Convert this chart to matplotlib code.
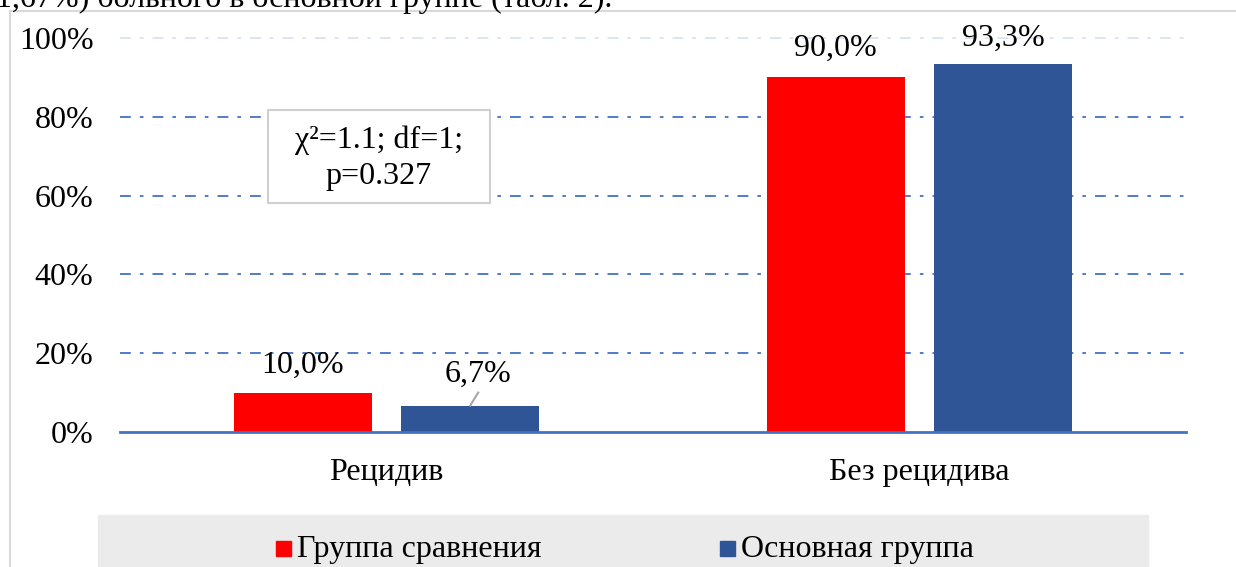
import matplotlib
matplotlib.use("Agg")
import matplotlib.pyplot as plt
from matplotlib.patches import Rectangle
from matplotlib.lines import Line2D

categories = ["Рецидив", "Без рецидива"]
series_names = ["Группа сравнения", "Основная группа"]
comparison = [10.0, 90.0]
main_group = [6.7, 93.3]
yticks = [0, 20, 40, 60, 80, 100]
stat_text = "χ²=1.1; df=1;\np=0.327"
page_text = "1,67%) больного в основной группе (табл. 2)."

RED = "#ff0000"
BLUE = "#2f5597"
GRID = "#4472c4"
W, H = 1236, 567
FS = 23
FONT = ["Liberation Serif", "DejaVu Serif"]
plt.rcParams["font.family"] = FONT

fig = plt.figure(figsize=(W / 100, H / 100), dpi=100)

def fx(px):
    return px / W

def fy(py):
    return 1 - py / H

# page text cut at top (as in the reference)
fig.text(fx(-4), fy(7), page_text, fontsize=FS, va="baseline", ha="left")

# chart frame
fig.add_artist(Line2D([fx(10), fx(10)], [fy(11), 0], color="#d9d9d9", lw=1.5))
fig.add_artist(Line2D([fx(10), 1], [fy(11), fy(11)], color="#d9d9d9", lw=1.5))

ax = fig.add_axes([fx(120), fy(432), fx(1186) - fx(120), fy(38) - fy(432)])
for s in ax.spines.values():
    s.set_visible(False)

x = [0, 1]
bw = 0.26
off = 0.157
ax.bar([i - off for i in x], comparison, width=bw, color=RED, zorder=3)
ax.bar([i + off for i in x], main_group, width=bw, color=BLUE, zorder=3)

ax.set_xlim(-0.5, 1.5)
ax.set_ylim(0, 100)
ax.set_yticks(yticks)
ax.set_yticklabels([f"{v}%" for v in yticks], fontsize=FS)
ax.set_xticks(x)
ax.set_xticklabels(categories, fontsize=FS)
ax.tick_params(axis="both", length=0)
ax.tick_params(axis="y", pad=19)
ax.tick_params(axis="x", pad=19)

for v in yticks[1:]:
    ax.axhline(v, color=GRID, lw=1.3, ls=(0, (6, 5, 2, 5)),
               alpha=0.2 if v == 100 else 1.0, zorder=1, clip_on=False)
ax.axhline(0, color=GRID, lw=2, zorder=4, clip_on=False)

def fmt(v):
    return f"{v:.1f}%".replace(".", ",")

# data labels
ax.text(0 - off, comparison[0] + 5.0, fmt(comparison[0]), ha="center",
        va="baseline", fontsize=FS)
ax.text(1 - off, comparison[1] + 5.4, fmt(comparison[1]), ha="center",
        va="baseline", fontsize=FS)
ax.text(1 + off, main_group[1] + 4.7, fmt(main_group[1]), ha="center",
        va="baseline", fontsize=FS)
# 6,7% with leader line
ax.text(0 + off + 0.014, main_group[0] + 6.0, fmt(main_group[0]), ha="center",
        va="baseline", fontsize=FS)
ax.plot([0 + off, 0 + off + 0.015], [main_group[0], main_group[0] + 3.3],
        color="#a6a6a6", lw=1.5, zorder=4)

# stat box
fig.add_artist(Rectangle((fx(268), fy(203)), fx(490) - fx(268), fy(110) - fy(203),
                         fc="white", ec="#d0d0d0", lw=1.5,
                         transform=fig.transFigure, zorder=5))
fig.text(fx(379), fy(158), stat_text, ha="center", va="center", fontsize=FS,
         linespacing=1.3, zorder=6)

# legend panel
fig.add_artist(Rectangle((fx(98), 0), fx(1148) - fx(98), fy(515), color="#ebebeb",
                         transform=fig.transFigure))
fig.add_artist(Rectangle((fx(276), fy(556)), fx(15), fy(541) - fy(556),
                         color=RED, transform=fig.transFigure))
fig.text(fx(297), fy(557), series_names[0], fontsize=FS, va="baseline", ha="left")
fig.add_artist(Rectangle((fx(720), fy(556)), fx(15), fy(541) - fy(556),
                         color=BLUE, transform=fig.transFigure))
fig.text(fx(741), fy(557), series_names[1], fontsize=FS, va="baseline", ha="left")

fig.savefig("out.png", dpi=100)
